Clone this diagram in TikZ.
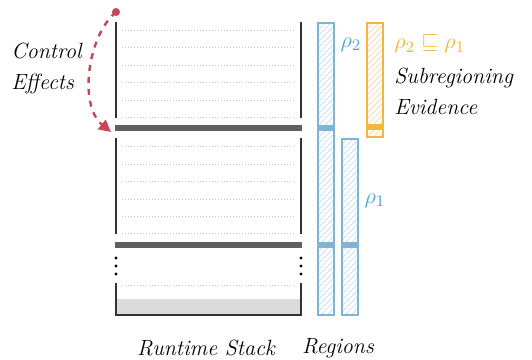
\documentclass[tikz,border=0pt]{standalone}
\usepackage{amsmath}
\usepackage{amssymb}
\usetikzlibrary{patterns,arrows.meta}
\definecolor{stackgray}{RGB}{96,96,96}
\definecolor{regionblue}{RGB}{128,180,210}
\definecolor{rhoblue}{RGB}{70,168,210}
\definecolor{evidenceorange}{RGB}{240,184,60}
\definecolor{effectred}{RGB}{200,70,85}

\begin{document}
\begin{tikzpicture}[
    x=0.5pt, y=-0.5pt,
    wall/.style={line width=1pt, black!80},
    slot/.style={dash pattern=on 0.4pt off 1.1pt, black!22, line width=0.4pt},
    frame/.style={line width=2.8pt, stackgray},
    region/.style={draw=regionblue, line width=0.8pt, pattern=north east lines, pattern color=regionblue!40},
    evidence/.style={draw=evidenceorange, line width=0.8pt, pattern=north east lines, pattern color=evidenceorange!45},
    caption/.style={font=\fontsize{11}{15.5}\selectfont\itshape, align=left, inner sep=0pt}
]
    \useasboundingbox (0,0) rectangle (532,360);

    % Runtime stack: empty slots, then walls and frames
    \foreach \y in {30,47.5,65,82.5,100,117.5,146.5,164,181.5,199,216.5,233.5,285}
        \draw[slot] (122,\y) -- (296,\y);
    \fill[black!14] (116,299) rectangle (301,315);
    \foreach \x in {116,301} {
        \draw[wall] (\x,22) -- (\x,118);
        \draw[wall] (\x,138) -- (\x,234);
        \draw[wall] (\x,283) -- (\x,315.5);
        \foreach \y in {258,266,274}
            \fill[black] (\x,\y) circle (1.6);
    }
    \draw[wall] (116,315) -- (301,315);
    \draw[frame] (115,128) -- (302,128);
    \draw[frame] (115,245) -- (302,245);

    % Regions
    \draw[region] (318,23) rectangle (334,315);
    \draw[region] (342,139) rectangle (358,315);
    \draw[evidence] (367,23) rectangle (383,137);
    \fill[regionblue] (318,125) rectangle (334,131);
    \fill[regionblue] (318,242) rectangle (334,248);
    \fill[regionblue] (342,242) rectangle (358,248);
    \fill[evidenceorange] (367,124) rectangle (383,130);

    % Labels
    \node[caption, text=rhoblue] (rhotwo) at (351,45) {$\rho_2$};
    \node[caption, text=rhoblue] (rhoone) at (375,201) {$\rho_1$};
    \node[caption, text=evidenceorange, anchor=west] (subrel) at (394,44) {$\rho_2 \sqsubseteq \rho_1$};
    \node[caption, anchor=west] (evidencetext) at (394,91.5) {Subregioning\\Evidence};
    \node[caption, anchor=west] (effects) at (11,68.5) {Control\\Effects};
    \node[caption] (stacktext) at (206,348) {Runtime Stack};
    \node[caption] (regiontext) at (338,348) {Regions};

    % Control effect jump
    \coordinate (jumpfrom) at (116,12);
    \coordinate (jumpto) at (111,132);
    \fill[effectred] (jumpfrom) circle (4);
    \draw[effectred, dashed, line width=1.2pt, -{Triangle[length=6pt,width=6pt]}]
        (jumpfrom) .. controls (88,35) and (78,105) .. (jumpto);
\end{tikzpicture}
\end{document}
